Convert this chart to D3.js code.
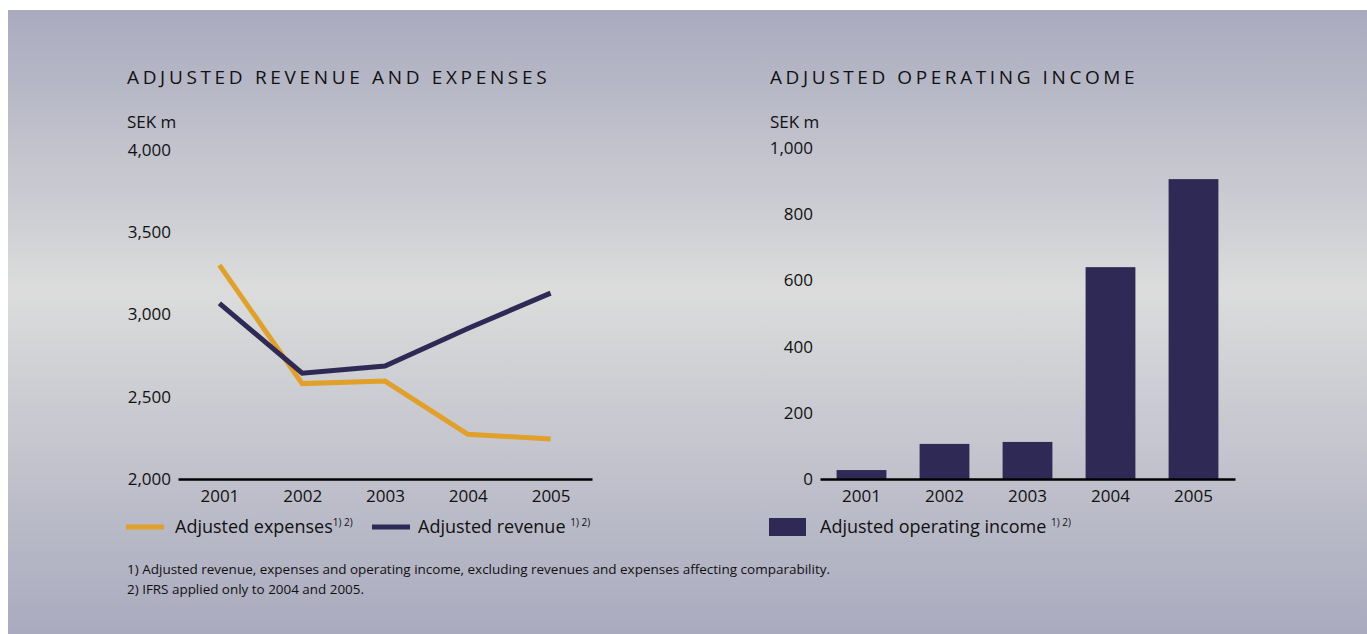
<!DOCTYPE html>
<html>
<head>
<meta charset="utf-8">
<title>Adjusted revenue, expenses and operating income</title>
<script src="https://cdnjs.cloudflare.com/ajax/libs/d3/7.8.5/d3.min.js"></script>
<style>
	body { margin: 0; background: #fff; }
	svg text { font-family: "Open Sans", "Noto Sans", sans-serif; fill: #111; }
</style>
</head>
<body>
<script>
	var years = ['2001', '2002', '2003', '2004', '2005'];
	var expenses = [3300, 2580, 2595, 2272, 2243];
	var revenue = [3068, 2643, 2687, 2915, 3130];
	var operatingIncome = [27, 106, 112, 640, 906];
	var lineTicks = [2000, 2500, 3000, 3500, 4000];
	var barTicks = [0, 200, 400, 600, 800, 1000];
	var footnotes = [
		'1) Adjusted revenue, expenses and operating income, excluding revenues and expenses affecting comparability.',
		'2) IFRS applied only to 2004 and 2005.'
	];

	var orange = '#e1a02a', navy = '#2f2a55';
	var W = 1367, H = 634;

	var svg = d3.select('body').append('svg')
		.attr('width', W)
		.attr('height', H);

	// background panel with vertical gradient
	var grad = svg.append('defs').append('linearGradient')
		.attr('id', 'bg').attr('x1', 0).attr('y1', 0).attr('x2', 0).attr('y2', 1);
	grad.append('stop').attr('offset', '0%').attr('stop-color', '#a9aabe');
	grad.append('stop').attr('offset', '45%').attr('stop-color', '#dbdcdb');
	grad.append('stop').attr('offset', '100%').attr('stop-color', '#a9aabe');
	svg.append('rect')
		.attr('x', 8).attr('y', 10)
		.attr('width', W - 8).attr('height', H - 10)
		.attr('fill', 'url(#bg)');

	function title(x, txt, len) {
		svg.append('text').attr('x', x).attr('y', 84)
			.attr('font-size', 19).attr('letter-spacing', 3.4)
			.attr('textLength', len)
			.text(txt);
		svg.append('text').attr('x', x).attr('y', 128)
			.attr('font-size', 17).text('SEK m');
	}

	function styleAxis(g) {
		g.select('.domain').attr('stroke', '#000').attr('stroke-width', 2.5);
		g.selectAll('.tick line').remove();
		g.selectAll('text').attr('font-size', 17).attr('fill', '#111')
			.attr('font-family', '"Open Sans", sans-serif');
	}

	// ---- left: line chart ----
	title(127, 'ADJUSTED REVENUE AND EXPENSES', 423);

	var x1 = d3.scalePoint().domain(years).range([178, 592]).padding(0.5);
	var y1 = d3.scaleLinear().domain([2000, 4000]).range([479, 150]);

	svg.append('g')
		.attr('transform', 'translate(0,479)')
		.call(d3.axisBottom(x1).tickSize(0).tickPadding(11).tickSizeOuter(0))
		.call(styleAxis);

	svg.append('g')
		.attr('transform', 'translate(178,0)')
		.call(d3.axisLeft(y1).tickValues(lineTicks).tickSize(0).tickPadding(7).tickFormat(d3.format(',')))
		.call(function (g) {
			styleAxis(g);
			g.select('.domain').remove();
		});

	var line = d3.line()
		.x(function (d, i) { return x1(years[i]); })
		.y(function (d) { return y1(d); });

	svg.append('path').datum(expenses)
		.attr('d', line).attr('fill', 'none')
		.attr('stroke', orange).attr('stroke-width', 5);
	svg.append('path').datum(revenue)
		.attr('d', line).attr('fill', 'none')
		.attr('stroke', navy).attr('stroke-width', 5);

	// legend
	function legendText(x, y, main, sup) {
		var t = svg.append('text').attr('x', x).attr('y', y).attr('font-size', 18);
		t.append('tspan').text(main);
		t.append('tspan').attr('font-size', 10).attr('dy', -7).text(sup);
	}
	svg.append('line').attr('x1', 126).attr('x2', 164).attr('y1', 527).attr('y2', 527)
		.attr('stroke', orange).attr('stroke-width', 5);
	legendText(175, 533, 'Adjusted expenses', '1) 2)');
	svg.append('line').attr('x1', 372).attr('x2', 410).attr('y1', 527).attr('y2', 527)
		.attr('stroke', navy).attr('stroke-width', 5);
	legendText(418, 533, 'Adjusted revenue ', '1) 2)');

	// ---- right: bar chart ----
	title(770, 'ADJUSTED OPERATING INCOME', 368);

	var x2 = d3.scaleBand().domain(years).range([820, 1235]).paddingInner(0.4).paddingOuter(0.2);
	var y2 = d3.scaleLinear().domain([0, 1000]).range([479, 148]);

	svg.append('g').selectAll('rect')
		.data(operatingIncome)
		.join('rect')
		.attr('x', function (d, i) { return x2(years[i]); })
		.attr('y', function (d) { return y2(d); })
		.attr('width', x2.bandwidth())
		.attr('height', function (d) { return y2(0) - y2(d); })
		.attr('fill', navy);

	svg.append('g')
		.attr('transform', 'translate(0,479)')
		.call(d3.axisBottom(x2).tickSize(0).tickPadding(11).tickSizeOuter(0))
		.call(styleAxis);

	svg.append('g')
		.attr('transform', 'translate(820,0)')
		.call(d3.axisLeft(y2).tickValues(barTicks).tickSize(0).tickPadding(7).tickFormat(d3.format(',')))
		.call(function (g) {
			styleAxis(g);
			g.select('.domain').remove();
		});

	svg.append('rect').attr('x', 769).attr('y', 518).attr('width', 37).attr('height', 18)
		.attr('fill', navy);
	legendText(820, 533, 'Adjusted operating income ', '1) 2)');

	// footnotes
	svg.selectAll('.note')
		.data(footnotes)
		.join('text')
		.attr('class', 'note')
		.attr('x', 127)
		.attr('y', function (d, i) { return 574 + i * 20; })
		.attr('font-size', 13)
		.attr('textLength', function (d, i) { return i === 0 ? 703 : 237; })
		.attr('lengthAdjust', 'spacingAndGlyphs')
		.text(function (d) { return d; });
</script>
</body>
</html>
